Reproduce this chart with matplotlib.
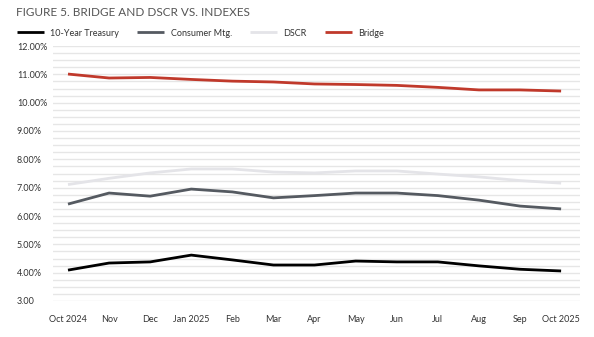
import numpy as np
import matplotlib.pyplot as plt
from matplotlib.ticker import MultipleLocator, FuncFormatter

months = ["Oct 2024", "Nov", "Dec", "Jan 2025", "Feb", "Mar", "Apr",
          "May", "Jun", "Jul", "Aug", "Sep", "Oct 2025"]
treasury = [4.09, 4.34, 4.38, 4.62, 4.45, 4.27, 4.27, 4.41, 4.38, 4.38, 4.24, 4.12, 4.06]
consumer = [6.42, 6.81, 6.70, 6.95, 6.85, 6.64, 6.72, 6.81, 6.81, 6.72, 6.56, 6.35, 6.25]
dscr = [7.11, 7.33, 7.52, 7.66, 7.66, 7.55, 7.52, 7.59, 7.59, 7.48, 7.38, 7.25, 7.16]
bridge = [11.01, 10.87, 10.89, 10.82, 10.76, 10.73, 10.66, 10.64, 10.61, 10.54, 10.45, 10.45, 10.41]

series = [("10-Year Treasury", treasury, "#000000"),
          ("Consumer Mtg.", consumer, "#555a61"),
          ("DSCR", dscr, "#e4e4e8"),
          ("Bridge", bridge, "#c0392b")]

plt.rcParams['font.family'] = ['Lato', 'DejaVu Sans']

fig = plt.figure(figsize=(5.94, 3.37), dpi=100)
ax = fig.add_axes([53 / 594, 1 - 301 / 337, 527 / 594, 255 / 337])

x = np.arange(len(months))
for name, vals, col in series:
    ax.plot(x, vals, color=col, lw=2.0, label=name, solid_capstyle='butt')

ax.set_ylim(3, 12)
ax.set_xlim(-0.365, 12.46)
ax.yaxis.set_major_locator(MultipleLocator(1))
ax.yaxis.set_minor_locator(MultipleLocator(0.25))
ax.yaxis.set_major_formatter(FuncFormatter(lambda v, p: "3.00" if v == 3 else f"{v:.2f}%"))
ax.grid(axis='y', which='both', color='#e6e6e6', lw=1.0)
ax.set_axisbelow(True)
ax.set_xticks(x)
ax.set_xticklabels(months)
ax.tick_params(axis='both', which='both', length=0, labelsize=6.5, colors='#333333')
ax.tick_params(axis='y', pad=26)
ax.tick_params(axis='x', pad=10)
for lbl in ax.get_yticklabels():
    lbl.set_horizontalalignment('left')
for s in ax.spines.values():
    s.set_visible(False)

fig.text(16 / 594, 1 - 13 / 337, "FIGURE 5. BRIDGE AND DSCR VS. INDEXES",
         fontsize=8.5, color='#555555', va='center', ha='left')

fig.legend(loc='center left', bbox_to_anchor=(17 / 594, 1 - 33 / 337), ncol=4,
           frameon=False, fontsize=6.5, handlelength=3.0, handletextpad=0.7,
           columnspacing=2.0, labelcolor='#333333', borderpad=0, borderaxespad=0)

fig.savefig("out.png", dpi=100)
